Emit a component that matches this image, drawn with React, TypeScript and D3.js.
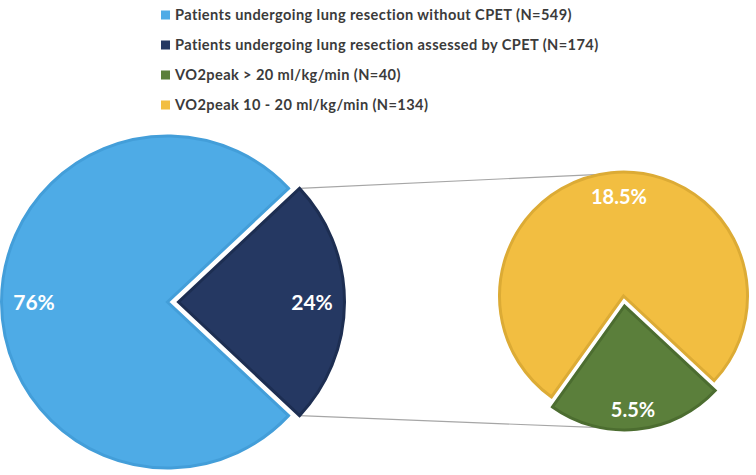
import React from "react";
import * as d3 from "d3";

// main pie: all patients
const mainLabels = [
    "Patients undergoing lung resection without CPET (N=549)",
    "Patients undergoing lung resection assessed by CPET (N=174)",
];
const mainValues = [76, 24];
const mainColors = ["#4EABE6", "#253862"];
const mainStrokes = ["#439ED9", "#1D2E52"];

// secondary pie: CPET group split by VO2peak
const subLabels = ["VO2peak > 20 ml/kg/min (N=40)", "VO2peak 10 - 20 ml/kg/min (N=134)"];
const subValues = [5.5, 18.5];
const subColors = ["#5B7F3B", "#F2BE41"];
const subStrokes = ["#4C6D30", "#DCAB35"];

const legendLabels = [mainLabels[0], mainLabels[1], subLabels[0], subLabels[1]];
const legendColors = [mainColors[0], mainColors[1], subColors[0], subColors[1]];

const W = 756;
const H = 475;
const deg = Math.PI / 180;

const mainPie = { cx: 173, cy: 302, r: 166, explode: 5.5 };
const subPie = { cx: 624, cy: 301, r: 124, explode: 5, start: 133 * deg };

const App: React.FC = () => {
    // navy (CPET) slice goes first, centred on the right-hand side
    const mainTotal = d3.sum(mainValues);
    const mainStart = Math.PI / 2 - (mainValues[1] / mainTotal) * Math.PI;
    const mainOrder = [mainValues[1], mainValues[0]];
    const mainIdx = [1, 0];
    const mainArcs = d3
        .pie<number>()
        .sort(null)
        .startAngle(mainStart)
        .endAngle(mainStart + 2 * Math.PI)(mainOrder);

    const subArcs = d3
        .pie<number>()
        .sort(null)
        .startAngle(subPie.start)
        .endAngle(subPie.start + 2 * Math.PI)(subValues);

    const mainArc = d3.arc<d3.PieArcDatum<number>>().innerRadius(0).outerRadius(mainPie.r);
    const subArc = d3.arc<d3.PieArcDatum<number>>().innerRadius(0).outerRadius(subPie.r);

    const offset = (a: d3.PieArcDatum<number>, e: number) => {
        const mid = (a.startAngle + a.endAngle) / 2;
        return [Math.sin(mid) * e, -Math.cos(mid) * e];
    };

    // connector lines: navy slice corners -> secondary pie edge
    const navy = mainArcs[0];
    const [ndx, ndy] = offset(navy, mainPie.explode);
    const nTop = [
        mainPie.cx + ndx + Math.sin(navy.startAngle) * mainPie.r,
        mainPie.cy + ndy - Math.cos(navy.startAngle) * mainPie.r,
    ];
    const nBot = [
        mainPie.cx + ndx + Math.sin(navy.endAngle) * mainPie.r,
        mainPie.cy + ndy - Math.cos(navy.endAngle) * mainPie.r,
    ];
    const sTop = [subPie.cx + Math.sin(-11 * deg) * subPie.r, subPie.cy - 5 - Math.cos(-11 * deg) * subPie.r];
    const sBot = [subPie.cx + Math.sin(191 * deg) * subPie.r, subPie.cy + 5 - Math.cos(191 * deg) * subPie.r];

    const labelFont = "Lato, 'Open Sans', sans-serif";

    return (
        <svg width={W} height={H} style={{ position: "absolute", left: 0, top: 0, background: "#fff" }}>
            {/* legend */}
            <g fontFamily={labelFont} fontWeight="bold" fontSize={14.6} fill="#3B3B3B">
                {legendLabels.map((t, i) => (
                    <g key={t} transform={`translate(161,${15 + i * 30})`}>
                        <rect x={0} y={-4.5} width={9} height={9} fill={legendColors[i]} />
                        <text x={14} y={5} letterSpacing={0.4}>
                            {t}
                        </text>
                    </g>
                ))}
            </g>

            {/* connectors */}
            <g stroke="#A6A6A6" strokeWidth={1.2}>
                <line x1={nTop[0]} y1={nTop[1]} x2={sTop[0]} y2={sTop[1]} />
                <line x1={nBot[0]} y1={nBot[1]} x2={sBot[0]} y2={sBot[1]} />
            </g>

            {/* main pie */}
            {mainArcs.map((a, k) => {
                const i = mainIdx[k];
                const [dx, dy] = offset(a, mainPie.explode);
                return (
                    <path
                        key={i}
                        d={mainArc(a) || ""}
                        transform={`translate(${mainPie.cx + dx},${mainPie.cy + dy})`}
                        fill={mainColors[i]}
                        stroke={mainStrokes[i]}
                        strokeWidth={3}
                    />
                );
            })}
            <g fontFamily={labelFont} fontWeight="bold" fontSize={21} fill="#fff" textAnchor="middle">
                <text x={34} y={310}>
                    {mainValues[0]}%
                </text>
                <text x={312} y={310}>
                    {mainValues[1]}%
                </text>
            </g>

            {/* secondary pie */}
            {subArcs.map((a, i) => {
                const [dx, dy] = offset(a, subPie.explode);
                return (
                    <path
                        key={i}
                        d={subArc(a) || ""}
                        transform={`translate(${subPie.cx + dx},${subPie.cy + dy})`}
                        fill={subColors[i]}
                        stroke={subStrokes[i]}
                        strokeWidth={3}
                    />
                );
            })}
            <g fontFamily={labelFont} fontWeight="bold" fontSize={20} fill="#fff" textAnchor="middle">
                <text x={619} y={204}>
                    {subValues[1]}%
                </text>
                <text x={633} y={417}>
                    {subValues[0]}%
                </text>
            </g>
        </svg>
    );
};

export default App;
